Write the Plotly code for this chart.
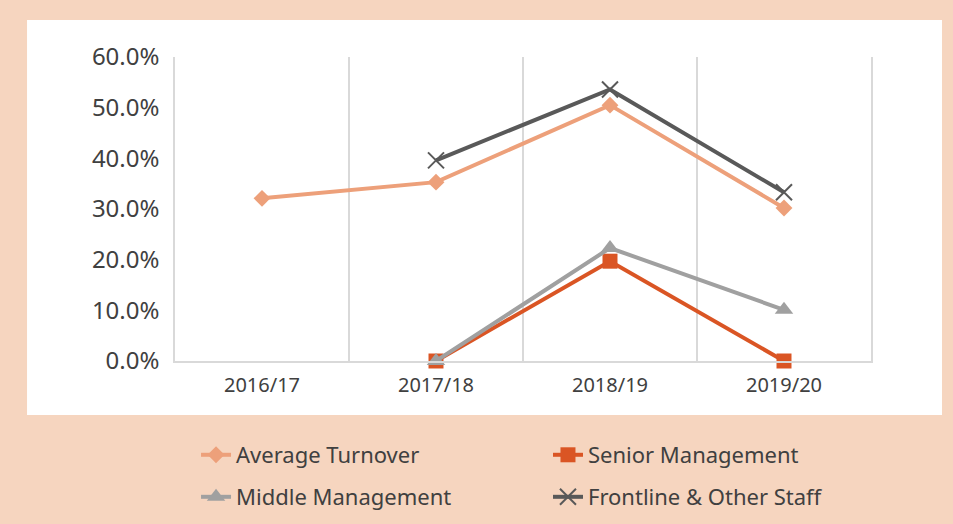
import plotly.graph_objects as go

categories = ["2016/17", "2017/18", "2018/19", "2019/20"]
average_turnover = [0.321, 0.353, 0.505, 0.302]
senior_management = [None, 0.0, 0.197, 0.0]
middle_management = [None, 0.0, 0.223, 0.101]
frontline_staff = [None, 0.396, 0.536, 0.333]

PEACH = "#F6D5BF"
TEXT = "#404040"
GRID = "#D9D9D9"
FONT = "Noto Sans"

fig = go.Figure()

series = [
    ("Average Turnover", average_turnover, "#EDA07A", "diamond", 13, "legend", 0),
    ("Senior Management", senior_management, "#DA5524", "square", 15, "legend2", 0),
    ("Middle Management", middle_management, "#A0A0A0", "triangle-up", 16, "legend3", 0),
    ("Frontline & Other Staff", frontline_staff, "#595959", "x-thin", 16, "legend4", 2),
]

for name, vals, color, sym, size, leg, lw in series:
    fig.add_trace(go.Scatter(
        x=categories, y=vals, name=name, mode="lines+markers",
        line=dict(color=color, width=4),
        marker=dict(symbol=sym, size=size, color=color,
                    line=dict(color=color, width=lw)),
        cliponaxis=False, legend=leg, connectgaps=False,
    ))

fig.add_shape(type="rect", xref="paper", yref="paper",
              x0=-0.2126, x1=1.102, y0=-0.1776, y1=1.1217,
              fillcolor="white", line=dict(width=0), layer="below")

legend_common = dict(
    orientation="h", xanchor="left", yanchor="middle",
    xref="container", yref="container",
    font=dict(family=FONT, size=22, color=TEXT),
    bgcolor="rgba(0,0,0,0)", itemwidth=30,
)

col1, col2 = 0.2057, 0.575
row1, row2 = 0.1317, 0.0515

fig.update_layout(
    width=953, height=524,
    margin=dict(l=175, r=82, t=57, b=163, autoexpand=False),
    paper_bgcolor=PEACH,
    plot_bgcolor="white",
    font=dict(family=FONT, color=TEXT),
    showlegend=True,
    legend=dict(x=col1, y=row1, **legend_common),
    legend2=dict(x=col2, y=row1, **legend_common),
    legend3=dict(x=col1, y=row2, **legend_common),
    legend4=dict(x=col2, y=row2, **legend_common),
    xaxis=dict(
        type="category", tickson="boundaries", showgrid=True,
        gridcolor=GRID, gridwidth=1.5, showline=True,
        linecolor=GRID, linewidth=1.5, ticks="",
        tickfont=dict(family=FONT, size=20, color=TEXT),
        ticklabelstandoff=5,
        range=[-0.5, 3.5], zeroline=False,
    ),
    yaxis=dict(
        range=[0, 0.6], tickvals=[0, 0.1, 0.2, 0.3, 0.4, 0.5, 0.6],
        tickformat=".1%", showgrid=False, zeroline=False,
        showline=True, mirror=True, linecolor=GRID, linewidth=1.5,
        ticks="", ticklabelstandoff=9,
        tickfont=dict(family=FONT, size=24, color=TEXT),
    ),
)

fig.write_html(
    "out.html",
    config={"displayModeBar": False},
    post_script="document.body.style.margin='0';document.body.style.background='" + PEACH + "';",
)
